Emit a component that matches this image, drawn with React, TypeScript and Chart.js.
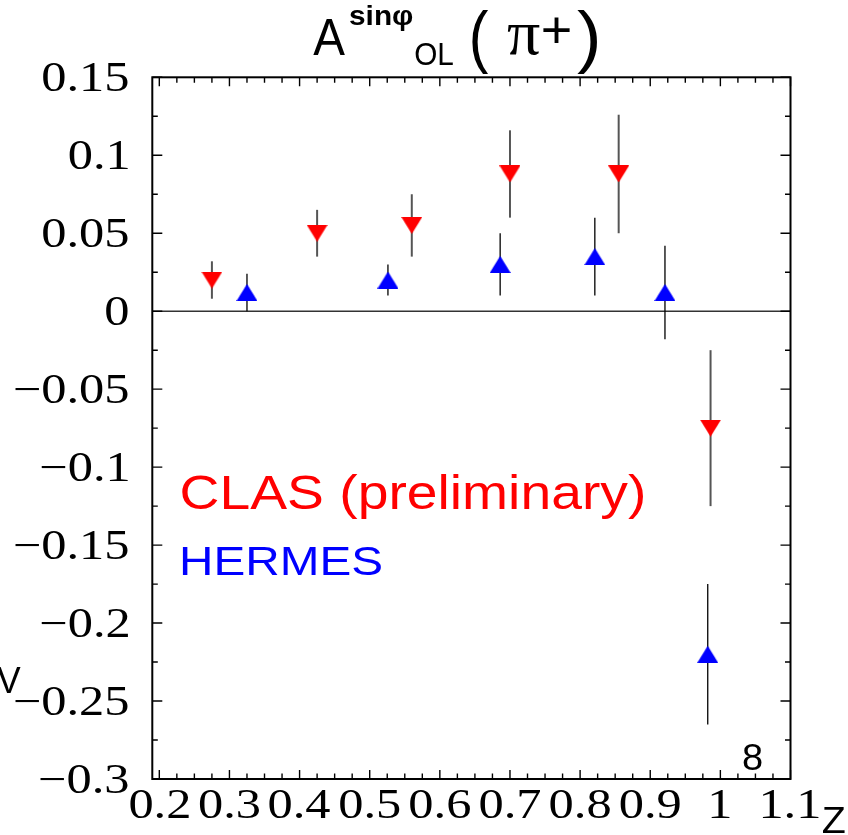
import React, { useEffect, useRef } from 'react';
import { Chart, registerables } from 'chart.js';

Chart.register(...registerables);

// ---- data ----
const clasZ = [0.275, 0.425, 0.56, 0.70, 0.855, 0.986];
const clasA = [0.020, 0.050, 0.055, 0.088, 0.088, -0.075];
const clasErr = [0.012, 0.015, 0.020, 0.028, 0.038, 0.050];

const hermesZ = [0.325, 0.526, 0.686, 0.821, 0.921, 0.982];
const hermesA = [0.012, 0.020, 0.030, 0.035, 0.012, -0.220];
const hermesErr = [0.012, 0.010, 0.020, 0.025, 0.030, 0.045];

const xMajorTicks = [0.2, 0.3, 0.4, 0.5, 0.6, 0.7, 0.8, 0.9, 1.0, 1.1];
const xTickLabels = ['0.2', '0.3', '0.4', '0.5', '0.6', '0.7', '0.8', '0.9', '1', '1.1'];
const yMajorTicks = [0.15, 0.1, 0.05, 0, -0.05, -0.1, -0.15, -0.2, -0.25, -0.3];
const yTickLabels = ['0.15', '0.1', '0.05', '0', '\u22120.05', '\u22120.1', '\u22120.15', '\u22120.2', '\u22120.25', '\u22120.3'];

const xMin = 0.19;
const xMax = 1.1;
const yMin = -0.3;
const yMax = 0.15;

const legendClas = 'CLAS (preliminary)';
const legendHermes = 'HERMES';

function drawInBox(ctx: CanvasRenderingContext2D, text: string, font: string, color: string,
  l: number, t: number, r: number, b: number) {
  ctx.save();
  ctx.font = font;
  ctx.textAlign = 'left';
  ctx.textBaseline = 'alphabetic';
  const m = ctx.measureText(text);
  const w = m.actualBoundingBoxLeft + m.actualBoundingBoxRight;
  const h = m.actualBoundingBoxAscent + m.actualBoundingBoxDescent;
  ctx.translate(l, t);
  ctx.scale((r - l) / w, (b - t) / h);
  ctx.fillStyle = color;
  ctx.fillText(text, m.actualBoundingBoxLeft, m.actualBoundingBoxAscent);
  ctx.restore();
}

const LABEL_FONT = '42px "Liberation Serif", "Times New Roman", serif';
const LABEL_SX = 1.2;

function drawTickLabel(ctx: CanvasRenderingContext2D, text: string, mode: 'right' | 'center', ax: number, baseline: number) {
  ctx.save();
  ctx.font = LABEL_FONT;
  ctx.textAlign = 'left';
  ctx.textBaseline = 'alphabetic';
  const m = ctx.measureText(text);
  const inkW = (m.actualBoundingBoxLeft + m.actualBoundingBoxRight) * LABEL_SX;
  const left = mode === 'right' ? ax - inkW : ax - inkW / 2;
  ctx.translate(left, baseline);
  ctx.scale(LABEL_SX, 1);
  ctx.fillStyle = '#000';
  ctx.fillText(text, m.actualBoundingBoxLeft, 0);
  ctx.restore();
}

function makeTriangle(color: string, up: boolean): HTMLCanvasElement {
  const c = document.createElement('canvas');
  c.width = 21;
  c.height = 17;
  const g = c.getContext('2d')!;
  g.fillStyle = color;
  g.beginPath();
  if (up) {
    g.moveTo(0, 17); g.lineTo(21, 17); g.lineTo(10.5, 0);
  } else {
    g.moveTo(0, 0); g.lineTo(21, 0); g.lineTo(10.5, 17);
  }
  g.closePath();
  g.fill();
  return c;
}

const errorBarPlugin = {
  id: 'errorBars',
  beforeDatasetsDraw(chart: any) {
    const { ctx, scales, chartArea } = chart;
    const xs = scales.x, ys = scales.y;
    ctx.save();
    // zero line
    const y0 = ys.getPixelForValue(0);
    ctx.strokeStyle = '#333';
    ctx.lineWidth = 1.6;
    ctx.beginPath();
    ctx.moveTo(chartArea.left, y0);
    ctx.lineTo(chartArea.right, y0);
    ctx.stroke();
    // error bars
    const series = [
      { z: clasZ, a: clasA, e: clasErr, color: '#555', w: 2 },
      { z: hermesZ, a: hermesA, e: hermesErr, color: '#000', w: 1.3 },
    ];
    for (const s of series) {
      ctx.strokeStyle = s.color;
      ctx.lineWidth = s.w;
      for (let i = 0; i < s.z.length; i++) {
        const px = xs.getPixelForValue(s.z[i]);
        ctx.beginPath();
        ctx.moveTo(px, ys.getPixelForValue(s.a[i] + s.e[i]));
        ctx.lineTo(px, ys.getPixelForValue(s.a[i] - s.e[i]));
        ctx.stroke();
      }
    }
    ctx.restore();
  },
  afterDraw(chart: any) {
    const { ctx, scales, chartArea } = chart;
    const xs = scales.x, ys = scales.y;
    const { left, right, top, bottom } = chartArea;
    ctx.save();
    ctx.strokeStyle = '#000';
    ctx.lineWidth = 2;
    ctx.strokeRect(left, top, right - left, bottom - top);

    // x ticks (bottom and top, inside)
    ctx.lineWidth = 1.4;
    for (let k = 0; k <= 36; k++) {
      const v = 0.2 + k * 0.025;
      if (v > xMax + 1e-9) break;
      const px = xs.getPixelForValue(v);
      const major = k % 4 === 0;
      const len = major ? 9 : 5.5;
      ctx.beginPath();
      ctx.moveTo(px, bottom); ctx.lineTo(px, bottom - len);
      ctx.moveTo(px, top); ctx.lineTo(px, top + len);
      ctx.stroke();
    }
    // y ticks (left and right, inside)
    for (let k = 0; k <= 18; k++) {
      const v = yMin + k * 0.025;
      const py = ys.getPixelForValue(v);
      const major = k % 2 === 0;
      const len = major ? 10 : 5.5;
      ctx.beginPath();
      ctx.moveTo(left, py); ctx.lineTo(left + len, py);
      ctx.moveTo(right, py); ctx.lineTo(right - len, py);
      ctx.stroke();
    }
    ctx.restore();

    // tick labels
    ctx.save();
    ctx.font = LABEL_FONT;
    const digitH = ctx.measureText('0').actualBoundingBoxAscent;
    ctx.restore();
    yMajorTicks.forEach((v, i) => {
      const py = ys.getPixelForValue(v);
      drawTickLabel(ctx, yTickLabels[i], 'right', 128.3, py + digitH / 2);
    });
    xMajorTicks.forEach((v, i) => {
      const px = xs.getPixelForValue(v);
      drawTickLabel(ctx, xTickLabels[i], 'center', px, 818);
    });

    // title  A^{sin phi}_{OL} (pi^+)
    const sans = '"Liberation Sans", Arial, Helvetica, sans-serif';
    drawInBox(ctx, 'A', `60px ${sans}`, '#000', 313.3, 20, 345, 55);
    drawInBox(ctx, 'sin\u03C6', `bold 30px ${sans}`, '#000', 350, 5, 413, 30);
    drawInBox(ctx, 'OL', `36px ${sans}`, '#000', 415, 42, 453, 65);
    drawInBox(ctx, '(', `70px ${sans}`, '#000', 472, 10, 488, 75);
    drawInBox(ctx, '\u03C0', `60px "Liberation Serif", serif`, '#000', 507, 25, 540, 55);
    drawInBox(ctx, '+', `50px ${sans}`, '#000', 543, 18, 570, 44);
    drawInBox(ctx, ')', `70px ${sans}`, '#000', 577, 10, 597, 75);

    // legend texts
    drawInBox(ctx, legendClas, `44px ${sans}`, '#ff0000', 182, 475, 643, 519);
    drawInBox(ctx, legendHermes, `44px ${sans}`, '#0000ff', 182.3, 546, 381.7, 575);

    // misc texts
    drawInBox(ctx, '8', `34px ${sans}`, '#000', 743, 745, 762, 770);
    drawInBox(ctx, 'Z', `34px ${sans}`, '#000', 823, 808, 845, 833);
    drawInBox(ctx, 'V', `34px ${sans}`, '#000', -3, 668, 21, 693);
  },
};

export default function App() {
  const ref = useRef<HTMLCanvasElement | null>(null);

  useEffect(() => {
    document.body.style.margin = '0';
    document.body.style.overflow = 'hidden';
    const canvas = ref.current!;
    const redTri = makeTriangle('#ff0000', false);
    const blueTri = makeTriangle('#0000ff', true);

    const chart = new Chart(canvas, {
      type: 'scatter',
      data: {
        datasets: [
          {
            label: legendClas,
            data: clasZ.map((z, i) => ({ x: z, y: clasA[i] })),
            pointStyle: redTri as any,
            pointRadius: 10,
            showLine: false,
          },
          {
            label: legendHermes,
            data: hermesZ.map((z, i) => ({ x: z, y: hermesA[i] })),
            pointStyle: blueTri as any,
            pointRadius: 10,
            showLine: false,
          },
        ],
      },
      options: {
        responsive: false,
        maintainAspectRatio: false,
        animation: false,
        devicePixelRatio: 1,
        layout: {
          padding: { left: 152.3, right: 848 - 790.5, top: 77.3, bottom: 835 - 779 },
        },
        plugins: {
          legend: { display: false },
          tooltip: { enabled: false },
          title: { display: false },
        },
        scales: {
          x: { type: 'linear', min: xMin, max: xMax, display: false },
          y: { type: 'linear', min: yMin, max: yMax, display: false },
        },
      },
      plugins: [errorBarPlugin],
    });
    return () => chart.destroy();
  }, []);

  return (
    <div style={{ width: 848, height: 835, background: '#fff' }}>
      <canvas ref={ref} width={848} height={835} style={{ display: 'block' }} />
    </div>
  );
}
